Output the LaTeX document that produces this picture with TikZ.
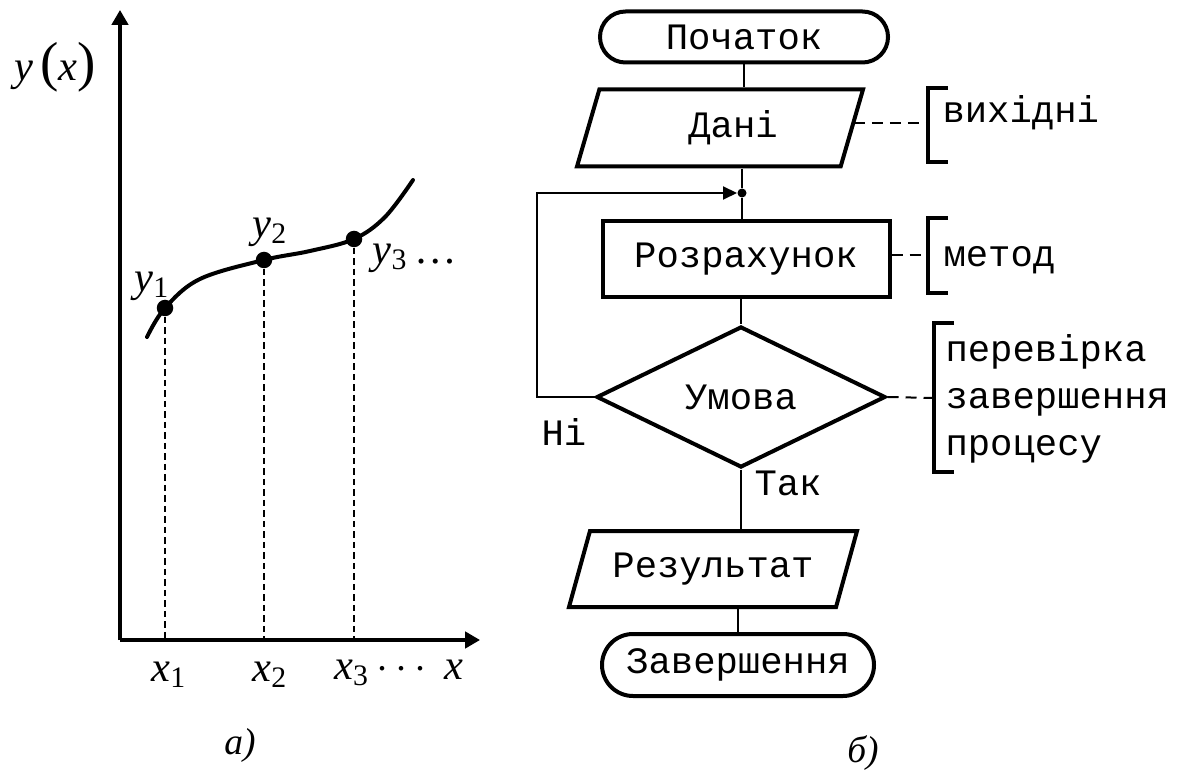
\documentclass[tikz,border=0pt]{standalone}
\usepackage{amsmath}
\usepackage{fontspec}
\setmainfont{Liberation Serif}
\newfontfamily\flowfont{Liberation Mono}
\usetikzlibrary{arrows.meta,shapes.geometric,positioning,calc}
\newcommand{\flowsize}{\fontsize{14.9}{18.8}\selectfont}
\newcommand{\varsize}{\fontsize{17}{20}\selectfont}

\begin{document}
\begin{tikzpicture}[x=0.4pt,y=-0.4pt,line join=miter,
    axisline/.style={line width=1.3pt,-{Triangle[length=6pt,width=6.6pt]}},
    graphline/.style={line width=1.6pt,line cap=round},
    guide/.style={line width=1.1pt,dash pattern=on 2.6pt off 1.6pt},
    knot/.style={circle,fill,inner sep=0pt,minimum size=6.6pt},
    vlbl/.style={inner sep=0pt,font=\varsize},
    caption/.style={inner sep=0pt,font=\fontsize{15}{18}\selectfont\itshape},
    blk/.style={draw,line width=1.6pt,inner sep=0pt,font=\flowfont\flowsize},
    terminal/.style={blk,rectangle,rounded corners=#1},
    inout/.style={blk,trapezium,trapezium left angle=57,trapezium right angle=123,
                  trapezium stretches body=true},
    process/.style={blk,rectangle},
    decision/.style={blk,diamond,aspect=2},
    conn/.style={line width=0.8pt},
    link/.style={line width=0.8pt,dash pattern=on 4.4pt off 2.8pt},
    brk/.style={line width=1.6pt},
    txt/.style={inner sep=0pt,font=\flowfont\flowsize}]
  \useasboundingbox (0,0) rectangle (1178,771);

  % --- a) function and sample points
  \coordinate (O) at (120,640);
  \draw[axisline] (O) -- (120,10);
  \draw[axisline] (O) -- (480,640);
  \node[vlbl] (yx) at (55,67)
     {\textit{y}\,{\fontsize{22}{22}\selectfont(}\textit{x}{\fontsize{22}{22}\selectfont)}};
  \draw[graphline] plot[smooth,tension=0.6] coordinates
     {(147,337) (165,308) (200,279) (264,260) (310,251) (354,239) (385,217) (413,180)};
  \foreach \i/\px/\py in {1/165/308,2/264/260,3/354/239}{
    \node[knot] (p\i) at (\px,\py) {};
    \coordinate (q\i) at (\px,640);
    \draw[guide] (p\i) -- (q\i);
  }
  \node[vlbl] (ly1) at (152,286) {\textit{y}\textsubscript{1}};
  \node[vlbl] (ly2) at (270,232) {\textit{y}\textsubscript{2}};
  \node[vlbl] (ly3) at (415,258) {\textit{y}\textsubscript{3}\,\ldots};
  \node[vlbl] (lx1) at (169,675) {\textit{x}\textsubscript{1}};
  \node[vlbl] (lx2) at (270,675) {\textit{x}\textsubscript{2}};
  \node[vlbl] (lx3) at (384,673) {\textit{x}\textsubscript{3}\,$\cdots$};
  \node[vlbl] (lx) at (454,670) {\textit{x}};
  \node[caption] (capa) at (240,745) {а)};

  % --- b) flowchart
  \node[terminal=10.2pt,minimum width=115.2pt,minimum height=20.4pt] (start) at (744,37) {Початок};
  \node[inout,minimum width=114.4pt,minimum height=30.8pt] (data) at (720,128) {\hspace*{10.4pt}Дані};
  \node[knot,minimum size=3.6pt] (j) at (742,193) {};
  \node[process,minimum width=114.8pt,minimum height=30.4pt] (calc) at (746,259) {Розрахунок};
  \node[decision,minimum width=115.6pt,minimum height=56.4pt] (check) at (741,397) {Умова};
  \node[inout,minimum width=115.2pt,minimum height=30.4pt] (result) at (713,569) {Результат};
  \node[terminal=12.4pt,minimum width=108.8pt,minimum height=24.8pt] (finish) at (738,665) {Завершення};

  \draw[conn] (start.south) -- (data.north -| start.south);
  \draw[conn] (data.south -| j) -- (j) -- (calc.north -| j);
  \draw[conn] (calc.south -| check.north) -- (check.north);
  \draw[conn] (check.south) -- (check.south |- result.north);
  \draw[conn] (result.south -| finish.north) -- (finish.north);
  \draw[conn,-{Triangle[length=5.6pt,width=5.2pt]}] (check.west) -- ++(-58,0) |- (j);
  \node[txt,anchor=base west] (no) at (541,445) {Ні};
  \node[txt,anchor=base west] (yes) at (754,495) {Так};

  % comments to the blocks
  \coordinate (b1) at (928,123);
  \coordinate (b2) at (928,255);
  \coordinate (b3) at (934,398);
  \draw[link] (b1 -| data.east) -- (b1);
  \draw[link] (calc.east |- b2) -- (b2);
  \draw[link] (check.east) -- (b3);
  \draw[brk] (948,88) -| (928,162) -- (948,162);
  \draw[brk] (948,218) -| (928,293) -- (948,293);
  \draw[brk] (954,323) -| (934,472) -- (954,472);
  \node[txt,anchor=base west] (src) at (942,123) {вихідні};
  \node[txt,anchor=base west] (meth) at (943,267) {метод};
  \node[txt,anchor=west,align=left] (stop) at (945,399) {перевірка\\завершення\\процесу};
  \node[caption] (capb) at (863,753) {б)};
\end{tikzpicture}
\end{document}
